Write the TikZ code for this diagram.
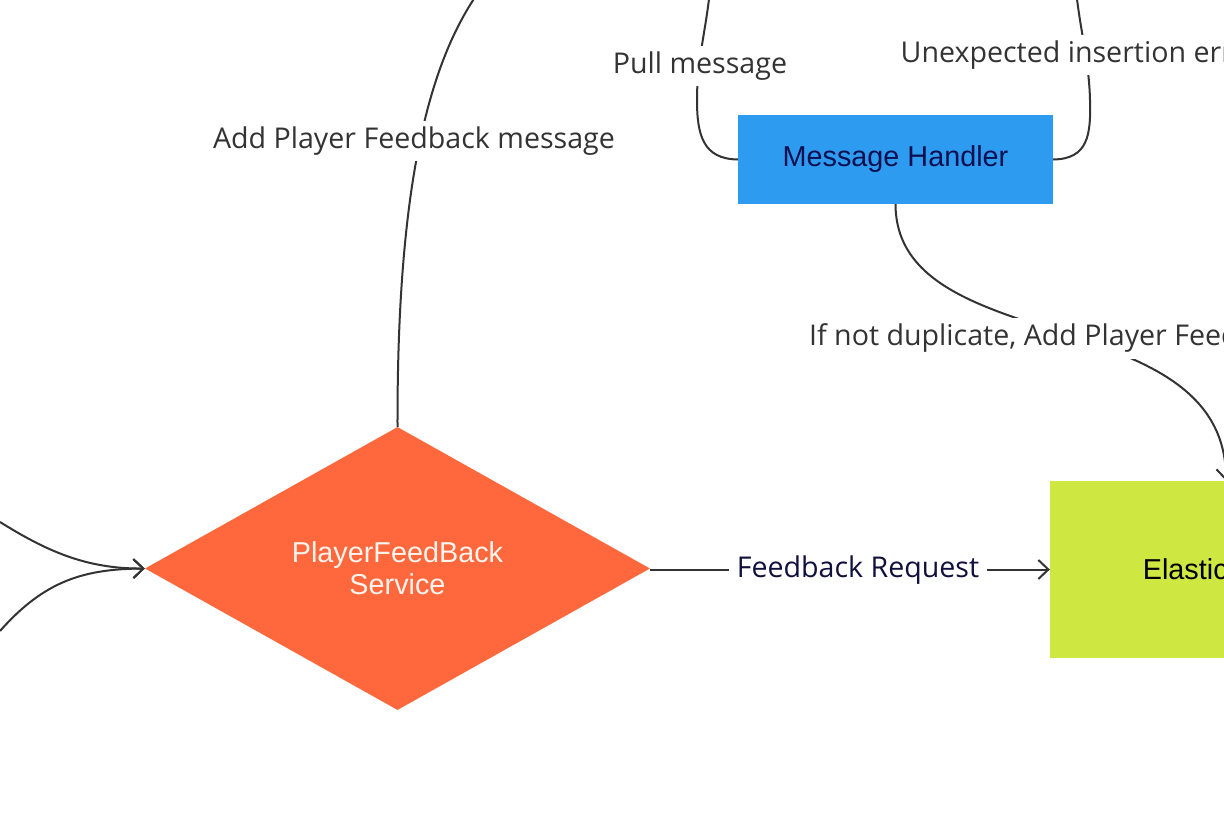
\documentclass[tikz,border=0pt]{standalone}
\usepackage{fontspec}
\setmainfont{Open Sans}
\newfontfamily\arialf{Liberation Sans}
\usetikzlibrary{shapes.geometric,arrows.meta}
\definecolor{linec}{HTML}{333333}
\definecolor{mhblue}{HTML}{2D9BF0}
\definecolor{dorange}{HTML}{FF673C}
\definecolor{elime}{HTML}{CEE741}
\definecolor{navyt}{HTML}{0C1050}
\definecolor{navyl}{HTML}{10103C}
\definecolor{labelc}{HTML}{333333}
\definecolor{dtext}{HTML}{FFF4EE}
\begin{document}
\begin{tikzpicture}[x=1pt,y=-1pt,
  conn/.style={draw=linec, line width=2pt},
  arr/.style={-{Straight Barb[length=10pt,width=19pt]}},
  lbl/.style={fill=white, text=labelc, font=\fontsize{28.6}{32}\selectfont, inner xsep=8pt, inner ysep=6pt},
  boxnode/.style={draw=none, inner sep=0pt, font=\arialf\fontsize{28.8}{32}\selectfont}
]
\useasboundingbox (0,0) rectangle (1224,816);
\clip (0,0) rectangle (1224,816);
% nodes
\node[boxnode, fill=mhblue, text=navyt, minimum width=315pt, minimum height=89pt] (mh) at (895.5,159.5) {Message Handler};
\node[diamond, fill=dorange, text=dtext, minimum width=505pt, minimum height=283pt, inner sep=0pt, align=center, font=\arialf\fontsize{28.8}{32}\selectfont] (pfs) at (397.5,568.5) {PlayerFeedBack\\Service};
\node[boxnode, fill=elime, text=black, minimum width=357pt, minimum height=177pt] (es) at (1228.5,569.5) {Elasticsearch};
% free ends
\coordinate (offA) at (480,-10);
\coordinate (offB) at (710,-10);
\coordinate (offC) at (1076,-10);
\coordinate (inA) at (0,522);
\coordinate (inB) at (0,631);
% connectors
\draw[conn] (pfs.north) .. controls (397,180) and (430,60) .. (offA);
\node[lbl] (lA) at (414,141) {Add Player Feedback message};
\draw[conn] (mh.west) .. controls (703,159) and (697,135) .. (697,100) .. controls (697,60) and (706,30) .. (offB);
\node[lbl] (lB) at (700,66) {Pull message};
\draw[conn] (mh.east) .. controls (1088,159) and (1091,135) .. (1090,100) .. controls (1089,60) and (1080,30) .. (offC);
\node[lbl] (lC) at (1081,55) {Unexpected insertion error};
\draw[conn, arr] (mh.south) .. controls (896,360) and (1226,300) .. ([xshift=-2.5pt]es.north)
  node[lbl, pos=0.5, xshift=-6pt, yshift=-5pt] (lD) {If not duplicate, Add Player Feedback};
\draw[conn, arr] (pfs.east |- es.west) -- node[lbl, text=navyl, xshift=8pt, yshift=-1pt] (lE) {Feedback Request} (es.west);
\draw[conn, arr] (inA) .. controls (45,550) and (85,569) .. (pfs.west);
\draw[conn, arr] (inB) .. controls (45,580) and (85,569) .. (pfs.west);
\end{tikzpicture}
\end{document}
